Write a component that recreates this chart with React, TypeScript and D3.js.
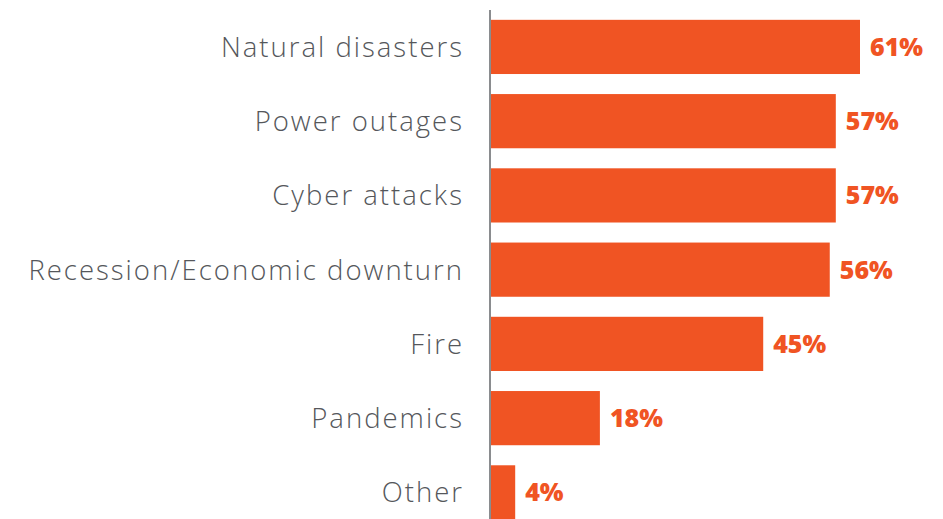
import React from "react";
import * as d3 from "d3";

const categories = [
  "Natural disasters",
  "Power outages",
  "Cyber attacks",
  "Recession/Economic downturn",
  "Fire",
  "Pandemics",
  "Other",
];
const values = [61, 57, 57, 56, 45, 18, 4];

export default function App() {
  const W = 943, H = 519;
  const x0 = 491;
  const x = d3.scaleLinear().domain([0, 61]).range([x0, 860]);
  const y = d3.scaleBand().domain(categories).range([20 - 10.2, 519 + 10.2 + 0.3]).paddingInner(0.27).paddingOuter(0.135);
  const band = y.bandwidth();
  return (
    <svg width={W} height={H} style={{ position: "absolute", left: 0, top: 0 }}>
      {categories.map((c, i) => (
        <g key={c}>
          <rect x={x0} y={y(c)} width={x(values[i]) - x0} height={band} fill="#F05423" />
          <text x={464} y={(y(c) as number) + band / 2} dy="0.36em" textAnchor="end"
            fontFamily="'Open Sans', sans-serif" fontWeight={300} fontSize={27.5} letterSpacing={2} fill="#55575b">{c}</text>
          <text x={x(values[i]) + 10} y={(y(c) as number) + band / 2} dy="0.36em"
            fontFamily="'Open Sans', Lato, sans-serif" fontWeight={800} fontSize={25} fill="#F05423">{values[i] + "%"}</text>
        </g>
      ))}
      <line x1={490} x2={490} y1={10} y2={H} stroke="#8a8c8f" strokeWidth={2} />
    </svg>
  );
}
